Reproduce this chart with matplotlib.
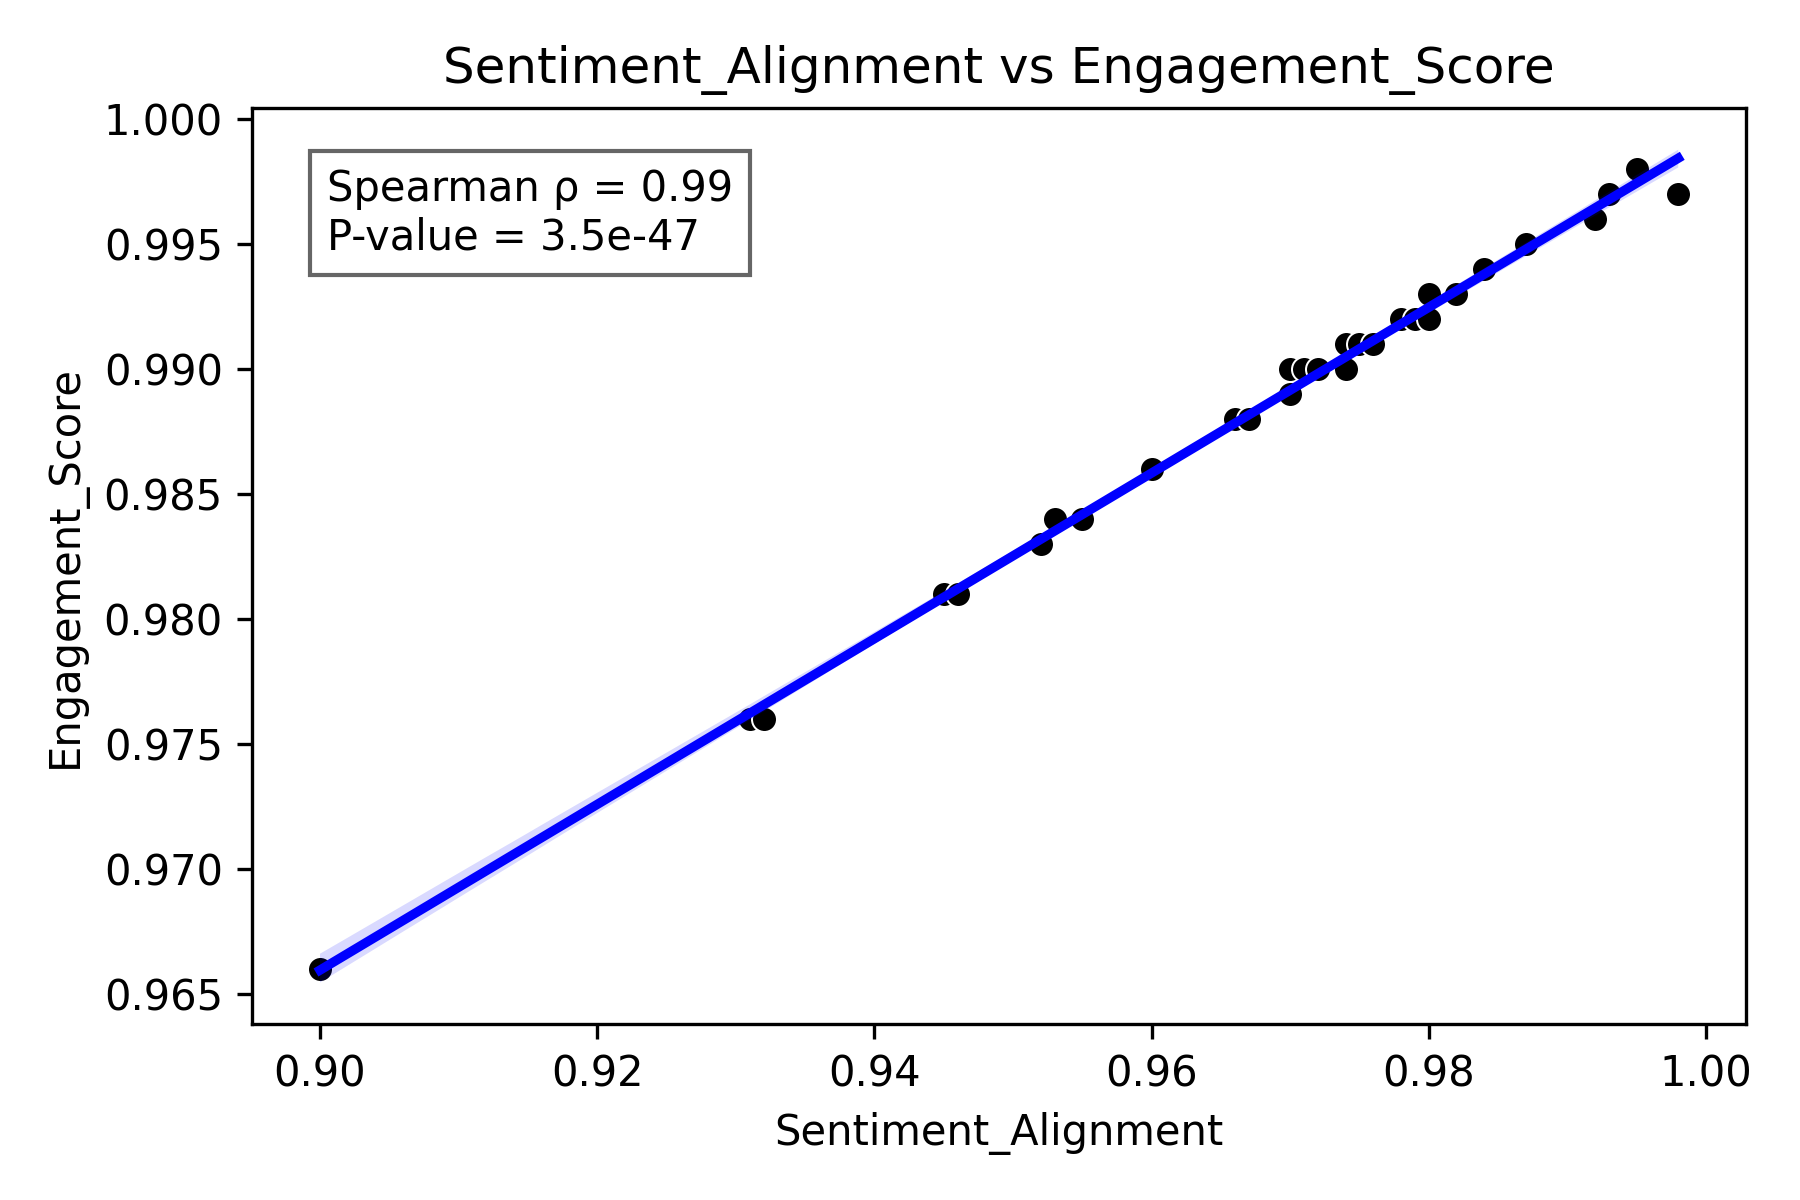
import matplotlib
matplotlib.use("Agg")
import matplotlib.pyplot as plt
import seaborn as sns
import pandas as pd

# values
sentiment = [0.900, 0.931, 0.932, 0.945, 0.946, 0.952, 0.953, 0.955, 0.960, 0.966,
             0.967, 0.970, 0.970, 0.971, 0.972, 0.974, 0.974, 0.975, 0.976, 0.978,
             0.979, 0.980, 0.980, 0.982, 0.984, 0.987, 0.992, 0.993, 0.995, 0.998]
engagement = [0.966, 0.976, 0.976, 0.981, 0.981, 0.983, 0.984, 0.984, 0.986, 0.988,
              0.988, 0.989, 0.990, 0.990, 0.990, 0.990, 0.991, 0.991, 0.991, 0.992,
              0.992, 0.992, 0.993, 0.993, 0.994, 0.995, 0.996, 0.997, 0.998, 0.997]
rho_txt = "Spearman ρ = 0.99"
p_txt = "P-value = 3.5e-47"

df = pd.DataFrame({"Sentiment_Alignment": sentiment, "Engagement_Score": engagement})

fig, ax = plt.subplots(figsize=(6, 4), dpi=300)
sns.scatterplot(data=df, x="Sentiment_Alignment", y="Engagement_Score", color="black", ax=ax)
sns.regplot(data=df, x="Sentiment_Alignment", y="Engagement_Score", scatter=False,
            color="blue", ax=ax, seed=0)
ax.text(0.05, 0.935, f"{rho_txt}\n{p_txt}", transform=ax.transAxes, va="top", fontsize=10,
        bbox=dict(boxstyle="square,pad=0.4", facecolor="white", edgecolor="black", alpha=0.6))
ax.set_title("Sentiment_Alignment vs Engagement_Score", fontsize=12)
ax.set_xlabel("Sentiment_Alignment")
ax.set_ylabel("Engagement_Score")
plt.tight_layout()
plt.savefig("out.png", dpi=300)
